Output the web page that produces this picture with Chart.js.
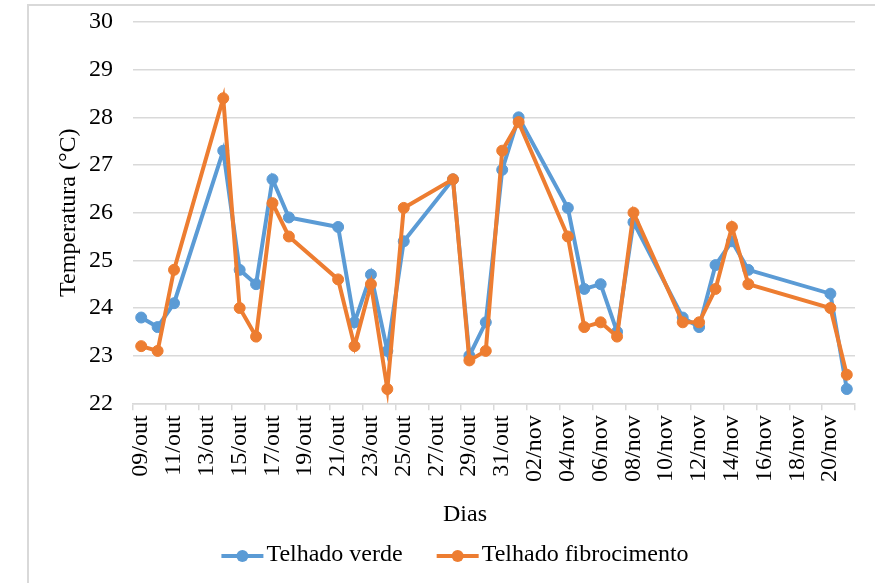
<!DOCTYPE html>
<html lang="pt-BR">
<head>
<meta charset="UTF-8">
<title>Temperatura - Telhado verde x Telhado fibrocimento</title>
<script src="https://cdn.jsdelivr.net/npm/chart.js"></script>
<style>
  body { margin: 0; background: #fff; overflow: hidden; }
  .moldura { position: absolute; left: 27px; top: 4px; width: 900px; height: 620px;
             border-left: 2px solid #d9d9d9; border-top: 2px solid #d9d9d9; }
  #grafico { display: block; }
</style>
</head>
<body>
<div class="moldura"><canvas id="grafico" width="853" height="578"></canvas></div>
<script>
// datas das medições
const datas = ['09/out', '10/out', '11/out', '14/out', '15/out', '16/out', '17/out', '18/out',
               '21/out', '22/out', '23/out', '24/out', '25/out', '28/out', '29/out', '30/out',
               '31/out', '01/nov', '04/nov', '05/nov', '06/nov', '07/nov', '08/nov', '11/nov',
               '12/nov', '13/nov', '14/nov', '15/nov', '20/nov', '21/nov'];
const telhadoVerde = [23.8, 23.6, 24.1, 27.3, 24.8, 24.5, 26.7, 25.9, 25.7, 23.7,
                      24.7, 23.1, 25.4, 26.7, 23.0, 23.7, 26.9, 28.0, 26.1, 24.4,
                      24.5, 23.5, 25.8, 23.8, 23.6, 24.9, 25.4, 24.8, 24.3, 22.3];
const telhadoFibrocimento = [23.2, 23.1, 24.8, 28.4, 24.0, 23.4, 26.2, 25.5, 24.6, 23.2,
                             24.5, 22.3, 26.1, 26.7, 22.9, 23.1, 27.3, 27.9, 25.5, 23.6,
                             23.7, 23.4, 26.0, 23.7, 23.7, 24.4, 25.7, 24.5, 24.0, 22.6];
// rótulos do eixo x (a cada 2 dias)
const rotulosX = ['09/out', '11/out', '13/out', '15/out', '17/out', '19/out', '21/out', '23/out',
                  '25/out', '27/out', '29/out', '31/out', '02/nov', '04/nov', '06/nov', '08/nov',
                  '10/nov', '12/nov', '14/nov', '16/nov', '18/nov', '20/nov'];

const fonte = '"Liberation Serif", "Times New Roman", serif';
const azul = '#5B9BD5';
const laranja = '#ED7D31';

// dia 0 = 09/out; outubro tem 31 dias
function diaDoPeriodo(d) {
  const [dia, mes] = d.split('/');
  return mes === 'out' ? Number(dia) - 9 : Number(dia) + 22;
}

function pontos(valores) {
  return datas.map((d, i) => ({ x: diaDoPeriodo(d), y: valores[i] }));
}

// título do eixo x e legenda com linha + marcador
const rodape = {
  id: 'rodape',
  afterDraw(chart, args, opts) {
    const ctx = chart.ctx;
    ctx.save();
    ctx.font = '24px ' + fonte;
    ctx.fillStyle = '#000';
    ctx.textBaseline = 'middle';
    ctx.textAlign = 'center';
    ctx.fillText(opts.titulo, opts.tituloX, opts.tituloY);

    const itens = chart.data.datasets.map(ds => ({
      texto: ds.label, cor: ds.borderColor, largura: ctx.measureText(ds.label).width
    }));
    const total = itens.reduce((s, it) => s + opts.linha + opts.folga + it.largura, 0)
                + opts.espaco * (itens.length - 1);
    let x = opts.legendaX - total / 2;
    ctx.textAlign = 'left';
    itens.forEach(it => {
      ctx.strokeStyle = it.cor;
      ctx.lineWidth = 4;
      ctx.beginPath();
      ctx.moveTo(x, opts.legendaY + 1);
      ctx.lineTo(x + opts.linha, opts.legendaY + 1);
      ctx.stroke();
      ctx.fillStyle = it.cor;
      ctx.beginPath();
      ctx.arc(x + opts.linha / 2, opts.legendaY + 1, 6, 0, Math.PI * 2);
      ctx.fill();
      ctx.fillStyle = '#000';
      ctx.fillText(it.texto, x + opts.linha + opts.folga, opts.legendaY);
      x += opts.linha + opts.folga + it.largura + opts.espaco;
    });
    ctx.restore();
  }
};

new Chart(document.getElementById('grafico'), {
  type: 'line',
  data: {
    datasets: [{
      label: 'Telhado verde',
      data: pontos(telhadoVerde),
      borderColor: azul,
      backgroundColor: azul,
      borderWidth: 4,
      pointRadius: 5.5,
      pointBorderWidth: 1,
      tension: 0,
      order: 1
    }, {
      label: 'Telhado fibrocimento',
      data: pontos(telhadoFibrocimento),
      borderColor: laranja,
      backgroundColor: laranja,
      borderWidth: 4,
      pointRadius: 5.5,
      pointBorderWidth: 1,
      tension: 0,
      order: 0
    }]
  },
  options: {
    responsive: false,
    animation: false,
    layout: { padding: { left: 25, right: 27, top: 16, bottom: 97 } },
    scales: {
      x: {
        type: 'linear',
        min: -0.5,
        max: 2 * rotulosX.length - 0.5,
        afterBuildTicks: (scale) => {
          scale.ticks = rotulosX.map((_, i) => ({ value: 2 * i - 0.5 }))
            .concat({ value: 2 * rotulosX.length - 0.5 });
        },
        afterFit: (scale) => {
          scale.paddingLeft = 0;
          scale.paddingRight = 0;
        },
        border: { color: '#d9d9d9', width: 1.5 },
        grid: { drawOnChartArea: false, tickLength: 7, color: '#d9d9d9', lineWidth: 1.5 },
        ticks: {
          autoSkip: false,
          minRotation: 90,
          maxRotation: 90,
          labelOffset: 8,
          padding: 5,
          color: '#000',
          font: { family: fonte, size: 24 },
          callback: (value, index) => rotulosX[index] || ''
        }
      },
      y: {
        min: 22,
        max: 30,
        afterFit: (scale) => {
          scale.width = 79;
          scale.paddingTop = 0;
          scale.paddingBottom = 0;
        },
        border: { display: false },
        grid: { color: '#d9d9d9', lineWidth: 1.5, drawTicks: false },
        ticks: { stepSize: 1, padding: 20, color: '#000', font: { family: fonte, size: 24 } },
        title: {
          display: true,
          text: 'Temperatura (°C)',
          color: '#000',
          font: { family: fonte, size: 24 },
          padding: { top: 0, bottom: 4 }
        }
      }
    },
    plugins: {
      legend: { display: false },
      tooltip: { enabled: false },
      rodape: {
        titulo: 'Dias',
        tituloX: 436,
        tituloY: 509,
        legendaX: 426,
        legendaY: 549,
        linha: 42,
        folga: 3,
        espaco: 34
      }
    }
  },
  plugins: [rodape]
});
</script>
</body>
</html>
